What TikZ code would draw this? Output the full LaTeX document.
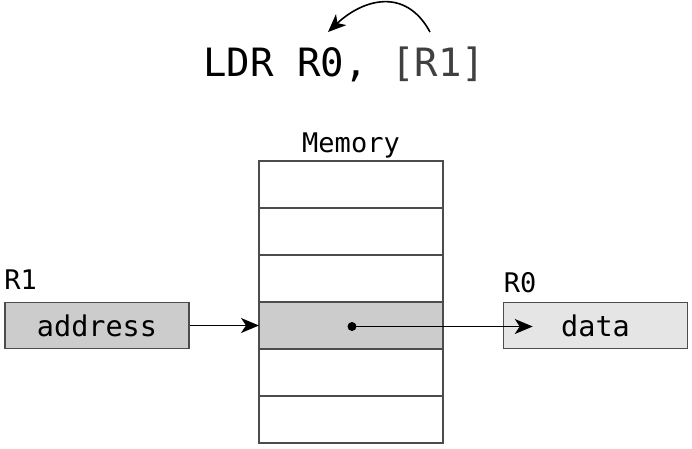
\documentclass[tikz,border=0pt]{standalone}
\usepackage{fontspec}
\setmonofont{DejaVu Sans Mono}
\usetikzlibrary{arrows.meta, positioning, calc}

\begin{document}
\begin{tikzpicture}[
    x=1pt, y=-1pt,
    cell/.style={rectangle, draw=black!70, line width=1.5pt, minimum width=184pt, minimum height=47pt, inner sep=0pt, outer sep=0pt},
    reg/.style={rectangle, draw=black!70, line width=1.5pt, minimum width=184pt, minimum height=46pt, inner sep=0pt, font=\ttfamily\fontsize{28.5}{32}\selectfont},
    tag/.style={font=\ttfamily\fontsize{27}{30}\selectfont, inner sep=0pt},
    arrow/.style={-{Stealth[length=18pt, width=15pt, inset=5pt]}, line width=1.6pt, black},
  ]
  \useasboundingbox (0,0) rectangle (692,448);

  % Instruction
  \node[font=\ttfamily\fontsize{39}{44}\selectfont, inner sep=0pt, anchor=base west] (instr) at (203,76) {LDR R0, \textcolor{black!75}{[R1]}};
  \coordinate (src) at (430,32);
  \coordinate (dst) at (328,32);
  \draw[arrow] (src) .. controls (405,-14) and (362,0) .. (dst);

  % Memory column
  \foreach \i in {0,...,5}
    \node[cell] (m\i) at (351,184.5+47*\i) {};
  \node[cell, fill=black!20] at (m3) {};
  \node[tag, above=3pt of m0] (memtag) {Memory};

  % Registers
  \node[reg, fill=black!20] (r1) at (97,325.5) {address};
  \node[reg, fill=black!10] (r0) at (595.5,325.5) {data};
  \node[tag, above right=12pt and 0pt of r1.north west] (r1tag) {R1};
  \node[tag, above right=9pt and 1pt of r0.north west] (r0tag) {R0};

  % Data flow
  \coordinate (cellpt) at ($(m3.center)+(1,1)$);
  \coordinate (datapt) at ($(r0.west)+(30,1)$);
  \draw[arrow] (r1.east) -- (m3.west);
  \fill (cellpt) circle (4.5pt);
  \draw[arrow] (cellpt) -- (datapt);

\end{tikzpicture}
\end{document}
